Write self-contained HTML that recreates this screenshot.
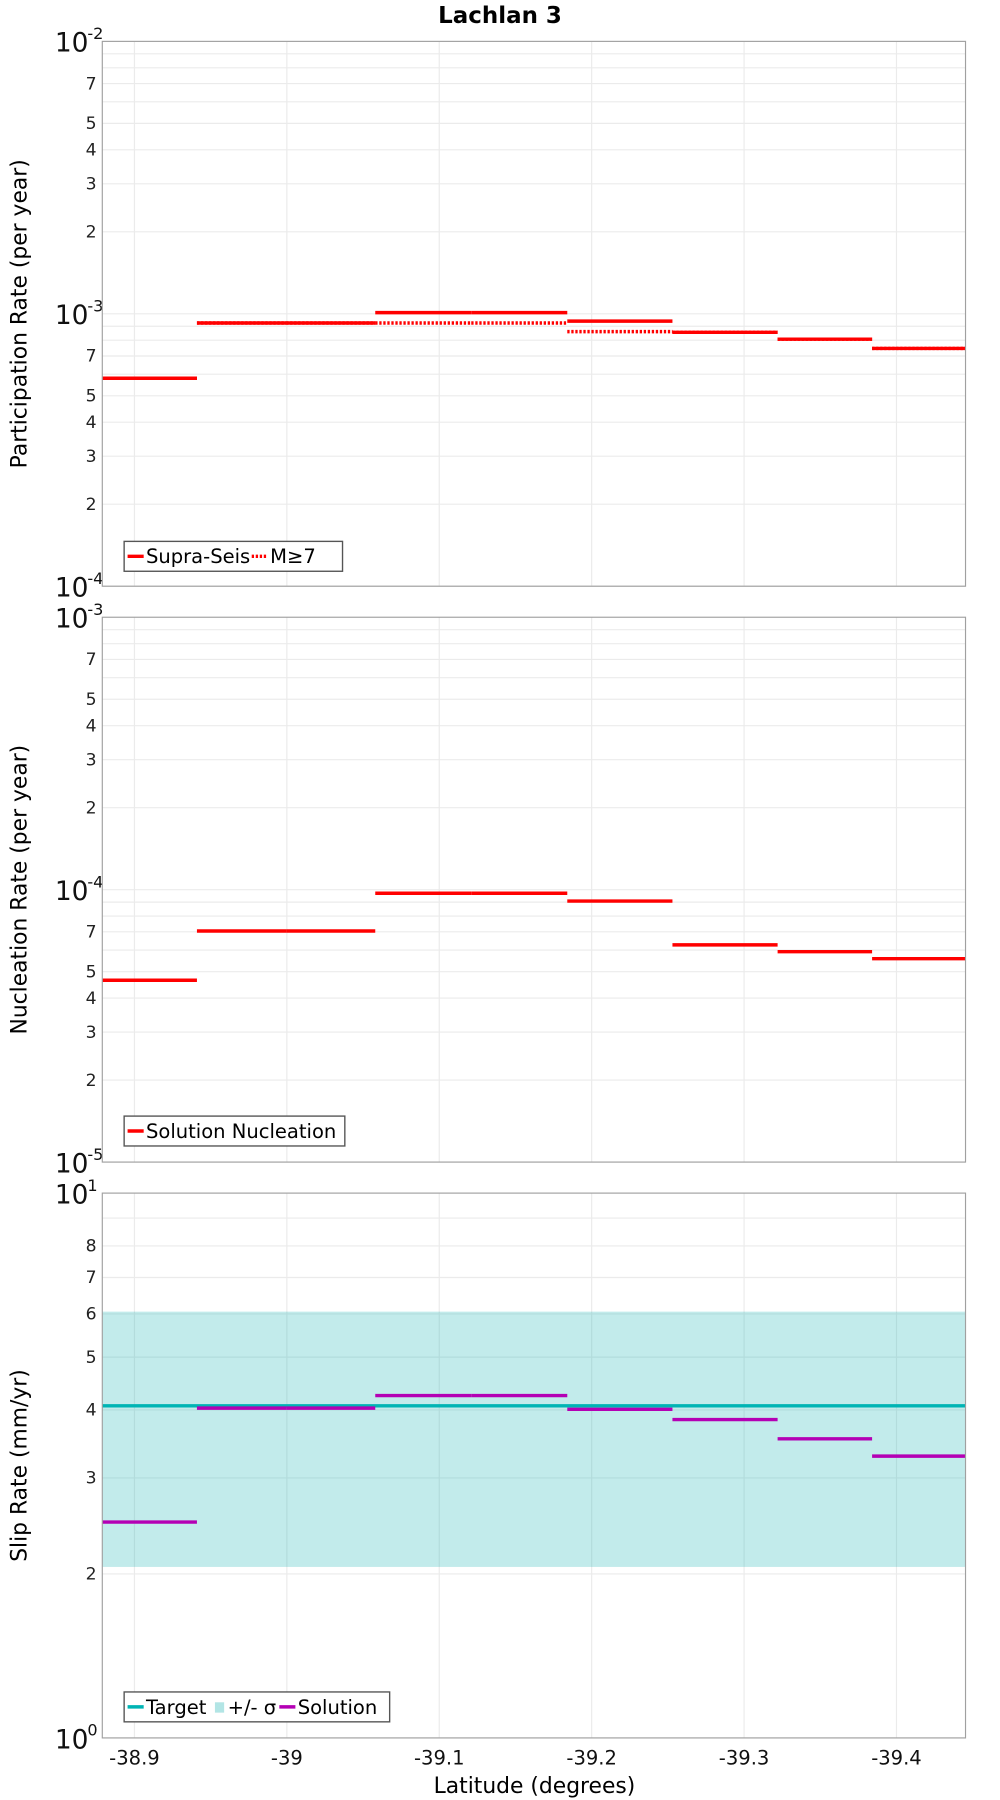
<!DOCTYPE html>
<html><head><meta charset="utf-8"><style>
html,body{margin:0;padding:0;background:#fff;}
svg{display:block;font-family:"DejaVu Sans","Liberation Sans",sans-serif;}
</style></head><body>
<svg id="chart" width="1000" height="1800" viewBox="0 0 870 1566" preserveAspectRatio="none" xmlns="http://www.w3.org/2000/svg">
<text x="435" y="20" text-anchor="middle" font-weight="bold" font-size="20">Lachlan 3</text>
<g id="root"></g>
<text x="465" y="1560" text-anchor="middle" font-size="19">Latitude (degrees)</text>
</svg>
<script>
// Section boundaries (latitude)
const bounds = [-38.879, -38.941, -38.9995, -39.058, -39.121, -39.184, -39.253, -39.322, -39.384, -39.445];
const xTicks = [-38.9, -39, -39.1, -39.2, -39.3, -39.4];
const xTickLabels = ["-38.9", "-39", "-39.1", "-39.2", "-39.3", "-39.4"];
// Panel 1
const supraSeis = [5.8e-4, 9.25e-4, 9.25e-4, 1.01e-3, 1.01e-3, 9.4e-4, 8.55e-4, 8.07e-4, 7.46e-4];
const m7 = [5.8e-4, 9.25e-4, 9.25e-4, 9.25e-4, 9.25e-4, 8.6e-4, 8.55e-4, 8.07e-4, 7.46e-4];
// Panel 2
const nucleation = [4.65e-5, 7.05e-5, 7.05e-5, 9.7e-5, 9.7e-5, 9.08e-5, 6.27e-5, 5.92e-5, 5.58e-5];
// Panel 3
const slipTarget = [4.07];
const slipBand = [2.06, 6.06];
const slipSolution = [2.49, 4.03, 4.03, 4.25, 4.25, 4.01, 3.84, 3.54, 3.29];

const NS = "http://www.w3.org/2000/svg";
const root = document.getElementById('root');
const L = 89, R = 840;
const xMin = -38.8789, xMax = -39.4453;
function xs(v){ return L + (v - xMin) / (xMax - xMin) * (R - L); }
function mk(tag, attrs, parent){ const e = document.createElementNS(NS, tag); for (const k in attrs) e.setAttribute(k, attrs[k]); (parent||root).appendChild(e); return e; }

const panels = [
  {top:36, bot:510, lo:-4, hi:-2, title:"Participation Rate (per year)", minorLabels:[2,3,4,5,7], name:"participation"},
  {top:537, bot:1011, lo:-5, hi:-3, title:"Nucleation Rate (per year)", minorLabels:[2,3,4,5,7], name:"nucleation"},
  {top:1038, bot:1512, lo:0, hi:1, title:"Slip Rate (mm/yr)", minorLabels:[2,3,4,5,6,7,8], name:"slip"}
];
panels.forEach(p => {
  p.ys = v => p.bot - (Math.log10(v) - p.lo) / (p.hi - p.lo) * (p.bot - p.top);
  const g = mk('g', {});
  
  
  p.g = g;
  // grid
  for (let d = p.lo; d < p.hi; d++) {
    for (let m = 1; m <= 9; m++) {
      const y = p.ys(m * Math.pow(10, d));
      const gl = mk('line', {x1:L, x2:R, y1:y, y2:y, stroke:'#ebebeb', 'stroke-width':1}, g);
      
      
      if (m > 1 && p.minorLabels.includes(m)) {
        const t = mk('text', {x:L-5, y:y+5, 'text-anchor':'end', 'font-size':15, fill:'#222'}, g);
        
        
        t.textContent = m;
      }
    }
  }
  for (let d = p.lo; d <= p.hi; d++) {
    const y = p.ys(Math.pow(10, d));
    const t = mk('text', {x:L-12, y:y+9, 'text-anchor':'end', 'font-size':23, fill:'#111'}, g);
    
    
    t.textContent = '10';
    const s = mk('text', {x:L-12, y:y-2, 'text-anchor':'start', 'font-size':14, fill:'#111'}, g);
    
    
    s.textContent = d;
    s.setAttribute('x', L - 12);
    s.setAttribute('text-anchor', 'start');
    s.setAttribute('dx', '-1');
  }
  xTicks.forEach(v => {
    const gl = mk('line', {x1:xs(v), x2:xs(v), y1:p.top, y2:p.bot, stroke:'#ebebeb', 'stroke-width':1}, g);
    
    
  });
  const yt = mk('text', {x:0, y:0, transform:`translate(23,${(p.top+p.bot)/2}) rotate(-90)`, 'text-anchor':'middle', 'font-size':19}, g);
  
  
  yt.textContent = p.title;
});

function steps(p, vals, color, dash, name, w){
  vals.forEach((v, i) => {
    const y = p.ys(v);
    const a = {x1:xs(bounds[i]), x2:xs(bounds[i+1]), y1:y, y2:y, stroke:color, 'stroke-width':w||3};
    if (dash) a['stroke-dasharray'] = dash;
    const l = mk('line', a, p.g);
    
    
  });
}
const P1 = panels[0], P2 = panels[1], P3 = panels[2];
steps(P1, m7, '#ff0000', '2,1.5', 'm7-segment');
steps(P1, supraSeis, '#ff0000', null, 'supra-seis-segment');
steps(P2, nucleation, '#ff0000', null, 'nucleation-segment');
// band
const band = mk('rect', {x:L, y:P3.ys(slipBand[1]), width:R-L, height:P3.ys(slipBand[0])-P3.ys(slipBand[1]), fill:'#00aaaa', 'fill-opacity':0.24}, P3.g);


const tl = mk('line', {x1:L, x2:R, y1:P3.ys(slipTarget[0]), y2:P3.ys(slipTarget[0]), stroke:'#00b4b4', 'stroke-width':3}, P3.g);


steps(P3, slipSolution, '#b400b4', null, 'solution-segment');

panels.forEach(p => {
  const f = mk('rect', {x:L, y:p.top, width:R-L, height:p.bot-p.top, fill:'none', stroke:'#a0a0a0', 'stroke-width':1}, p.g);
  
  
});

xTicks.forEach((v, i) => {
  const t = mk('text', {x:xs(v), y:1535, 'text-anchor':'middle', 'font-size':17, fill:'#111'});
  
  
  t.textContent = xTickLabels[i];
});

function legend(p, y, w, items, name){
  const g = mk('g', {}, p.g);
  
  
  mk('rect', {x:108, y:y, width:w, height:26, fill:'#fff', stroke:'#555', 'stroke-width':1.2}, g);
  let x = 111;
  items.forEach(it => {
    if (it.type === 'rect') mk('rect', {x:x, y:y+9, width:8, height:9, fill:it.color, 'fill-opacity':0.3}, g);
    else { const a = {x1:x, x2:x+14, y1:y+13, y2:y+13, stroke:it.color, 'stroke-width':3}; if (it.dash) a['stroke-dasharray']=it.dash; mk('line', a, g); }
    x += it.type === 'rect' ? 11 : 16;
    const t = mk('text', {x:x, y:y+19, 'font-size':17}, g);
    
    
    t.textContent = it.label;
    x += it.w;
  });
}
legend(P1, 471, 190, [{color:'#ff0000', label:'Supra-Seis', w:92},{color:'#ff0000', dash:'2,1.5', label:'M≥7', w:40}], 'legend-participation');
legend(P2, 971, 192, [{color:'#ff0000', label:'Solution Nucleation', w:170}], 'legend-nucleation');
legend(P3, 1472, 231, [{color:'#00b4b4', label:'Target', w:60},{type:'rect', color:'#00aaaa', label:'+/- σ', w:45},{color:'#b400b4', label:'Solution', w:80}], 'legend-slip');
</script>
</body></html>
